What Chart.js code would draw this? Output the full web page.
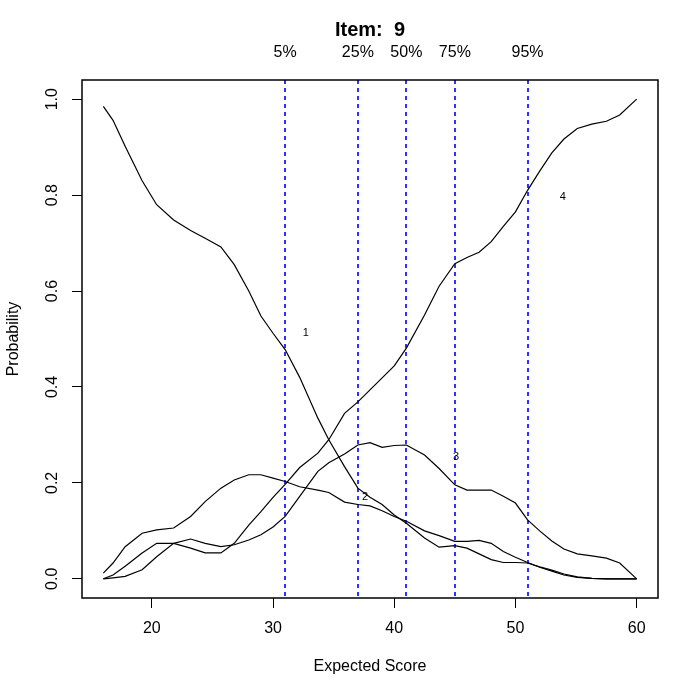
<!DOCTYPE html>
<html>
<head>
<meta charset="utf-8">
<script src="https://cdn.jsdelivr.net/npm/chart.js@4.4.1/dist/chart.umd.min.js"></script>
<style>
  html, body { margin: 0; padding: 0; background: #fff; }
  #wrap { width: 700px; height: 700px; }
</style>
</head>
<body>
<div id="wrap"><canvas id="chart" width="700" height="700"></canvas></div>
<script>
// evaluation points (expected score)
const scores = [16, 16.8, 17.8, 19.2, 20.4, 21.8, 23.2, 24.4, 25.7, 26.8,
                28.0, 29.0, 30.0, 31.0, 32.2, 33.7, 34.6, 35.9, 37.0, 38.0,
                39.0, 40.0, 41.0, 42.5, 43.7, 45.0, 46.0, 47.0, 48.0, 49.0,
                50.0, 51.0, 52.0, 53.0, 54.0, 55.1, 56.3, 57.5, 58.6, 60];

// option probabilities
const option1 = [0.985, 0.956, 0.902, 0.830, 0.780, 0.748, 0.726, 0.710, 0.692, 0.655,
                 0.600, 0.548, 0.512, 0.478, 0.420, 0.335, 0.290, 0.234, 0.189, 0.170,
                 0.155, 0.133, 0.116, 0.085, 0.066, 0.069, 0.064, 0.052, 0.040, 0.034,
                 0.034, 0.033, 0.025, 0.018, 0.010, 0.004, 0.001, 0, 0, 0];
const option2 = [0.012, 0.033, 0.067, 0.095, 0.102, 0.106, 0.130, 0.161, 0.189, 0.206,
                 0.217, 0.217, 0.210, 0.203, 0.192, 0.185, 0.180, 0.160, 0.155, 0.152,
                 0.142, 0.130, 0.120, 0.100, 0.090, 0.078, 0.078, 0.080, 0.074, 0.057,
                 0.045, 0.034, 0.024, 0.016, 0.008, 0.003, 0.001, 0, 0, 0];
const option3 = [0, 0.002, 0.005, 0.019, 0.046, 0.074, 0.083, 0.074, 0.067, 0.071,
                 0.081, 0.092, 0.108, 0.130, 0.172, 0.224, 0.242, 0.260, 0.279, 0.284,
                 0.274, 0.278, 0.279, 0.258, 0.230, 0.196, 0.185, 0.185, 0.185, 0.172,
                 0.158, 0.123, 0.100, 0.079, 0.062, 0.052, 0.048, 0.043, 0.033, 0];
const option4 = [0, 0.008, 0.026, 0.054, 0.074, 0.074, 0.064, 0.054, 0.054, 0.074,
                 0.112, 0.140, 0.170, 0.197, 0.232, 0.262, 0.290, 0.345, 0.369, 0.394,
                 0.419, 0.444, 0.481, 0.550, 0.610, 0.657, 0.670, 0.681, 0.703, 0.735,
                 0.765, 0.810, 0.850, 0.888, 0.917, 0.939, 0.948, 0.954, 0.967, 1.0];

// curve labels
const optionLabels = ['1', '2', '3', '4'];
const labelX = [32.7, 37.6, 45.1, 53.9];
const labelY = [0.512, 0.171, 0.254, 0.796];

// quantiles of the expected score
const quantileNames = ['5%', '25%', '50%', '75%', '95%'];
const quantileScores = [31, 37, 41, 45, 51];

const xTicks = [20, 30, 40, 50, 60];
const yTicks = [0, 0.2, 0.4, 0.6, 0.8, 1.0];
const itemNumber = 9;

const FONT = '"Liberation Sans", Arial, Helvetica, sans-serif';
const xMin = 14.24, xMax = 61.76, yMin = -0.04, yMax = 1.04;

const toPoints = ys => scores.map((x, i) => ({ x: x, y: ys[i] }));

const curveSets = [option1, option2, option3, option4].map(ys => ({
  data: toPoints(ys),
  borderColor: '#000',
  borderWidth: 1.2,
  pointRadius: 0,
  tension: 0,
  fill: false
}));

// dashed quantile lines
const quantileLines = {
  id: 'quantileLines',
  beforeDatasetsDraw(chart) {
    const ctx = chart.ctx;
    const a = chart.chartArea;
    const xs = chart.scales.x;
    ctx.save();
    ctx.strokeStyle = '#0000ff';
    ctx.lineWidth = 1.6;
    ctx.setLineDash([4, 4]);
    quantileScores.forEach(q => {
      const px = Math.round(xs.getPixelForValue(q));
      ctx.beginPath();
      ctx.moveTo(px, a.top);
      ctx.lineTo(px, a.bottom);
      ctx.stroke();
    });
    ctx.restore();
  }
};

// R style box, tick labels, titles
const rDecor = {
  id: 'rDecor',
  afterDraw(chart) {
    const ctx = chart.ctx;
    const a = chart.chartArea;
    const xs = chart.scales.x, ys = chart.scales.y;
    ctx.save();
    ctx.strokeStyle = '#000';
    ctx.lineWidth = 1.5;
    ctx.strokeRect(a.left, a.top, a.right - a.left, a.bottom - a.top);

    ctx.fillStyle = '#000';
    ctx.font = '16px ' + FONT;
    ctx.textAlign = 'center';
    ctx.textBaseline = 'middle';
    xTicks.forEach(v => ctx.fillText(String(v), xs.getPixelForValue(v), 629));

    yTicks.forEach(v => {
      ctx.save();
      ctx.translate(53, ys.getPixelForValue(v));
      ctx.rotate(-Math.PI / 2);
      ctx.fillText(v.toFixed(1), 0, 0);
      ctx.restore();
    });

    ctx.fillText('Expected Score', (a.left + a.right) / 2, 667);
    ctx.save();
    ctx.translate(14, (a.top + a.bottom) / 2);
    ctx.rotate(-Math.PI / 2);
    ctx.fillText('Probability', 0, 0);
    ctx.restore();

    quantileNames.forEach((n, i) => ctx.fillText(n, xs.getPixelForValue(quantileScores[i]), 53));

    ctx.font = 'bold 20px ' + FONT;
    ctx.fillText('Item:  ' + itemNumber, (a.left + a.right) / 2, 30);

    ctx.font = '11px ' + FONT;
    optionLabels.forEach((t, i) => ctx.fillText(t, xs.getPixelForValue(labelX[i]), ys.getPixelForValue(labelY[i])));
    ctx.restore();
  }
};

new Chart(document.getElementById('chart'), {
  type: 'line',
  data: { datasets: curveSets },
  options: {
    responsive: false,
    animation: false,
    events: [],
    layout: { padding: { top: 80, right: 42, left: 0, bottom: 0 } },
    scales: {
      x: {
        type: 'linear',
        min: xMin,
        max: xMax,
        afterBuildTicks: s => { s.ticks = xTicks.map(v => ({ value: v })); },
        afterFit: s => { s.height = 102; },
        grid: { display: true, drawOnChartArea: false, drawTicks: true, tickLength: 10, color: '#000', lineWidth: 1 },
        border: { display: false },
        ticks: { display: false }
      },
      y: {
        type: 'linear',
        min: yMin,
        max: yMax,
        afterBuildTicks: s => { s.ticks = yTicks.map(v => ({ value: v })); },
        afterFit: s => { s.width = 82; },
        grid: { display: true, drawOnChartArea: false, drawTicks: true, tickLength: 10, color: '#000', lineWidth: 1 },
        border: { display: false },
        ticks: { display: false }
      }
    },
    plugins: {
      legend: { display: false },
      tooltip: { enabled: false }
    }
  },
  plugins: [quantileLines, rDecor]
});
</script>
</body>
</html>
